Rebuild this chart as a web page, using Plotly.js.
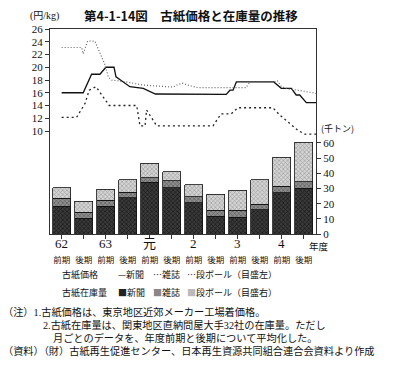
<!DOCTYPE html>
<html><head><meta charset="utf-8">
<script src="https://cdn.plot.ly/plotly-3.0.1.min.js"></script>
<style>html,body{margin:0;padding:0;background:#fff}#c{width:396px;height:366px}</style>
</head><body><div id="c"></div>
<script>
// ---- data ----
const fiscalYears = ['62','63','元','2','3','4'];
const halves = ['前期','後期'];
const periodIdx = [0,1,2,3,4,5,6,7,8,9,10,11];
// stock (thousand tons), right axis
const stockShinbun = [18.2, 10.5, 18.2, 24.0, 34.1, 30.6, 20.7, 11.6, 11.1, 16.0, 27.3, 30.3];
const stockZasshi  = [5.5, 3.9, 4.0, 3.5, 3.1, 4.4, 3.7, 4.0, 4.5, 3.5, 4.2, 4.0];
const stockDanbo   = [6.9, 7.3, 7.3, 8.4, 9.3, 6.2, 8.2, 10.6, 13.2, 16.4, 19.0, 26.1];
// prices (yen/kg), left axis; time in half-year units (0 = 62前期)
const priceShinbunT = [0, 0.98, 1.36, 1.74, 2.01, 2.38, 2.47, 3.1, 3.71, 4.16, 4.26, 7.48, 7.65, 7.79, 7.94, 9.64, 9.98, 10.44, 10.66, 10.82, 11.12, 11.56];
const priceShinbun  = [16.0, 16.0, 18.9, 18.9, 20.0, 20.0, 18.5, 16.95, 16.7, 16.0, 15.8, 15.75, 16.4, 16.4, 17.7, 17.7, 16.7, 16.7, 15.65, 15.65, 14.45, 14.45];
const priceZasshiT  = [0, 0.91, 0.98, 1.18, 1.51, 1.97, 2.12, 2.27, 2.93, 3.71, 4.77, 5.07, 5.3, 5.5, 5.82, 6.2, 8.38, 8.56, 9.64, 9.8, 9.98, 10.27, 10.73, 11.03, 11.56];
const priceZasshi   = [23.1, 23.1, 22.1, 24.1, 24.1, 20.4, 18.5, 18.0, 17.7, 17.2, 16.95, 16.9, 17.3, 17.5, 17.1, 16.8, 16.8, 17.7, 17.7, 17.9, 17.0, 16.6, 16.4, 16.2, 15.9];
const priceDanboT   = [0, 0.68, 1.06, 1.25, 1.56, 1.89, 2.16, 3.41, 3.56, 3.79, 3.86, 4.32, 6.88, 7.03, 7.25, 7.71, 8.01, 9.6, 9.91, 10.36, 10.74, 11.05, 11.56];
const priceDanbo    = [12.15, 12.15, 14.3, 16.4, 16.95, 15.4, 14.0, 14.0, 10.8, 10.8, 13.3, 10.8, 10.8, 11.6, 12.7, 12.7, 13.65, 13.65, 12.5, 11.2, 10.1, 9.5, 9.5];
const leftTicks  = [10,12,14,16,18,20,22,24,26];
const rightTicks = [0,10,20,30,40,50,60];
const noteLines = [
  '（注）1.古紙価格は、東京地区近郊メーカー工場着価格。',
  '2.古紙在庫量は、関東地区直納問屋大手32社の在庫量。ただし',
  '月ごとのデータを、年度前期と後期について平均化した。',
  '（資料）（財）古紙再生促進センター、日本再生資源共同組合連合会資料より作成'
];

// ---- layout helpers (pixel -> paper) ----
const M = {l:50, r:80, t:29, b:132}, W = 396, H = 366;
const PW = W - M.l - M.r, PH = H - M.t - M.b;
const px = x => (x - M.l) / PW;
const py = y => (H - M.b - y) / PH;

const JP = '"Noto Sans CJK JP", sans-serif';
const SERIF = '"Liberation Serif", "Noto Sans CJK JP", serif';

const barCommon = (name, vals, bg, fg) => ({
  type:'bar', x: periodIdx, y: vals, name, yaxis:'y2', width:0.82,
  marker:{color:bg, line:{color:'#111', width:0.8},
          pattern:{shape:'x', fgcolor:fg, bgcolor:bg, size:3, solidity:0.35}},
  hoverinfo:'skip'
});

const traces = [
  barCommon('新聞', stockShinbun, '#3a3a3a', '#111'),
  barCommon('雑誌', stockZasshi, '#8e8e8e', '#555'),
  barCommon('段ボール', stockDanbo, '#d4d4d4', '#999'),
  {type:'scatter', mode:'lines', x: priceShinbunT, y: priceShinbun, name:'新聞', yaxis:'y',
   line:{color:'#111', width:1.3}},
  {type:'scatter', mode:'lines', x: priceZasshiT, y: priceZasshi, name:'雑誌', yaxis:'y',
   line:{color:'#666', width:1.2, dash:'1px,2px'}},
  {type:'scatter', mode:'lines', x: priceDanboT, y: priceDanbo, name:'段ボール', yaxis:'y',
   line:{color:'#222', width:1.3, dash:'2px,3px'}}
];

const ann = [];
const addText = (text, x, y, opt={}) => ann.push(Object.assign({
  text, xref:'paper', yref:'paper', x: px(x), y: py(y), xanchor:'left', yanchor:'middle',
  showarrow:false, borderpad:0, font:{family:JP, size:10, color:'#111'}}, opt));

// year labels under 前期 ticks
fiscalYears.forEach((fy, i) => ann.push({text: fy, xref:'x', yref:'paper', x: i*2, y: py(243),
  xanchor:'center', yanchor:'middle', showarrow:false, font:{family:SERIF, size:13, color:'#111'}}));

const f9 = {font:{family:JP, size:9, color:'#111'}};
addText('<b>第4-1-14図　古紙価格と在庫量の推移</b>', 191, 16, {xanchor:'center', font:{family:JP, size:12.5, color:'#111'}});
addText('(円/kg)', 29, 16, {font:{family:SERIF, size:10, color:'#111'}});
addText('(千トン)', 320, 128, f9);
addText('年度', 308, 246, {font:{family:JP, size:9.5, color:'#111'}});

addText('古紙価格', 61, 274, f9);
addText('—新聞', 117, 274, f9);
addText('…雑誌', 152, 274, f9);
addText('…段ボール（目盛左）', 186, 274, f9);
addText('古紙在庫量', 61, 292, f9);
addText('<span style="color:#222">■</span>新聞', 117, 292, f9);
addText('<span style="color:#888">■</span>雑誌', 152, 292, f9);
addText('<span style="color:#bbb">■</span>段ボール（目盛右）', 186, 292, f9);

const fNote = {font:{family:SERIF, size:10.2, color:'#111'}};
const noteX = [2, 42, 52, 2], noteY = [311.5, 324.5, 337.5, 350.5];
noteLines.forEach((t, i) => addText(t, noteX[i], noteY[i], fNote));

const layout = {
  width: W, height: H, margin: M, showlegend:false, barmode:'stack',
  paper_bgcolor:'#fff', plot_bgcolor:'#fff',
  font:{family:SERIF, size:11, color:'#111'},
  xaxis:{range:[-0.53, 11.56], tickvals: periodIdx,
    ticktext: periodIdx.map(i => halves[i % 2]), tickfont:{family:JP, size:8.5, color:'#111'},
    ticks:'outside', ticklen:4, tickcolor:'#333', ticklabelstandoff:14,
    showline:true, linecolor:'#333', linewidth:1, mirror:true, showgrid:false, zeroline:false, fixedrange:true},
  yaxis:{range:[26 - PH/6.375, 26], tickvals:leftTicks, ticks:'outside', ticklen:4, tickcolor:'#333',
    tickfont:{family:SERIF, size:11, color:'#111'},
    showline:true, linecolor:'#333', linewidth:1, showgrid:false, zeroline:false},
  yaxis2:{range:[0, PH/1.517], overlaying:'y', side:'right', tickvals:rightTicks, ticks:'outside', ticklen:4,
    tickcolor:'#333', tickfont:{family:SERIF, size:11, color:'#111'},
    showline:true, linecolor:'#333', linewidth:1, showgrid:false, zeroline:false},
  annotations: ann
};
Plotly.newPlot('c', traces, layout, {staticPlot:true});
</script></body></html>
